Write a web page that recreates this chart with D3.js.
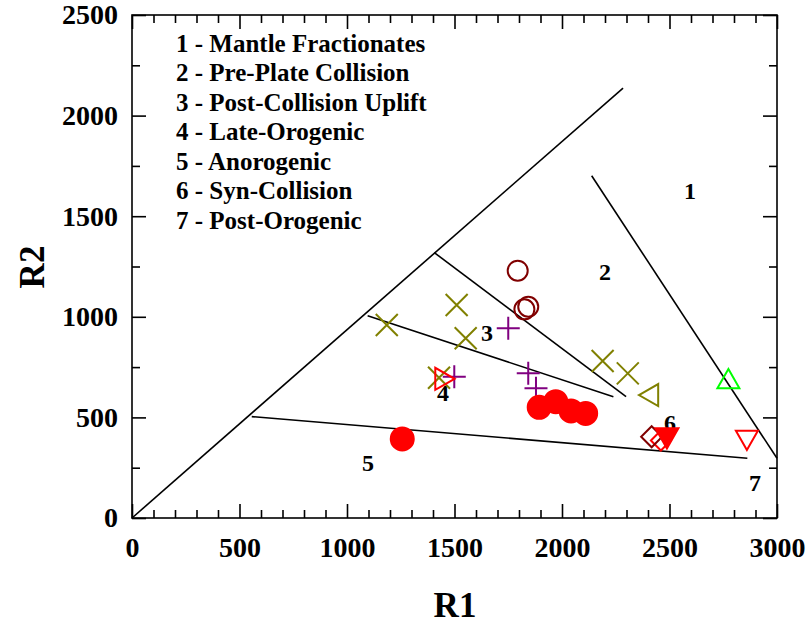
<!DOCTYPE html>
<html>
<head>
<meta charset="utf-8">
<script src="https://cdn.jsdelivr.net/npm/d3@7"></script>
<style>
  html, body { margin: 0; padding: 0; background: #ffffff; }
  svg { display: block; }
  text { font-family: "Liberation Serif", "Times New Roman", serif; font-weight: bold; fill: #000; }
</style>
</head>
<body>
<svg id="chart" width="810" height="624"></svg>
<script>
// ---------------- DATA ----------------
const xTickValues = [0, 500, 1000, 1500, 2000, 2500, 3000];
const yTickValues = [0, 500, 1000, 1500, 2000, 2500];

const legendLines = [
  "1 - Mantle Fractionates",
  "2 - Pre-Plate Collision",
  "3 - Post-Collision Uplift",
  "4 - Late-Orogenic",
  "5 - Anorogenic",
  "6 - Syn-Collision",
  "7 - Post-Orogenic"
];

// Field boundaries [R1, R2] start and end
const boundaryStartR1 = [0,    2138, 1406, 1096, 557];
const boundaryStartR2 = [0,    1701, 1319, 1005, 504];
const boundaryEndR1   = [2284, 3000, 2298, 2239, 2862];
const boundaryEndR2   = [2137, 297,  603,  603,  297];

// Field number labels
const zoneText = ["1", "2", "3", "4", "5", "6", "7"];
const zoneR1   = [2595, 2200, 1651, 1447, 1098, 2502, 2898];
const zoneR2   = [1625, 1223, 919,  621,  273,  472,  174];

// Sample series
const oliveCrossR1 = [1185, 1510, 1552, 1428, 2189, 2306];
const oliveCrossR2 = [959,  1059, 893,  697,  780,  719];

const purplePlusR1 = [1750, 1499, 1843, 1879];
const purplePlusR2 = [943,  702,  719,  645];

const darkRedCircleR1 = [1794, 1825, 1843];
const darkRedCircleR2 = [1229, 1037, 1050];

const redDotR1 = [1257, 1894, 1971, 2042, 2110];
const redDotR2 = [393,  550,  578,  532,  520];

const redTriRightR1 = [1449];
const redTriRightR2 = [692];

const oliveTriLeftR1 = [2409];
const oliveTriLeftR2 = [611];

const greenTriUpR1 = [2774];
const greenTriUpR2 = [686];

const redTriDownR1 = [2860];
const redTriDownR2 = [393];

const redDiamondR1 = [2460];
const redDiamondR2 = [385];

const darkRedDiamondR1 = [2417];
const darkRedDiamondR2 = [404];

const redFilledTriDownR1 = [2488];
const redFilledTriDownR2 = [403];

// ---------------- CHART ----------------
const svg = d3.select("#chart");
const mLeft = 132, mRight = 777, mTop = 15, mBottom = 518;

const x = d3.scaleLinear().domain([0, 3000]).range([mLeft, mRight]);
const y = d3.scaleLinear().domain([0, 2500]).range([mBottom, mTop]);

// frame
svg.append("rect")
  .attr("x", mLeft).attr("y", mTop)
  .attr("width", mRight - mLeft).attr("height", mBottom - mTop)
  .attr("fill", "none").attr("stroke", "#000").attr("stroke-width", 1.6);

const xMinor = d3.range(0, 3001, 100).filter(v => v % 500 !== 0);
const yMinor = d3.range(0, 2501, 250).filter(v => v % 500 !== 0);

function styleAxis(g) {
  g.select(".domain").remove();
  g.selectAll("line").attr("stroke", "#000").attr("stroke-width", 1.6);
  g.selectAll("text").attr("font-size", 28)
    .attr("font-family", '"Liberation Serif", "Times New Roman", serif')
    .attr("font-weight", "bold").attr("fill", "#000");
}

// bottom axis major + labels
svg.append("g").attr("transform", `translate(0,${mBottom})`)
  .call(d3.axisBottom(x).tickValues(xTickValues).tickSize(-14).tickPadding(19).tickFormat(d3.format("d")))
  .call(styleAxis);
svg.append("g").attr("transform", `translate(0,${mBottom})`)
  .call(d3.axisBottom(x).tickValues(xMinor).tickSize(-8).tickFormat(""))
  .call(styleAxis);
// top axis
svg.append("g").attr("transform", `translate(0,${mTop})`)
  .call(d3.axisTop(x).tickValues(xTickValues).tickSize(-14).tickFormat(""))
  .call(styleAxis);
svg.append("g").attr("transform", `translate(0,${mTop})`)
  .call(d3.axisTop(x).tickValues(xMinor).tickSize(-8).tickFormat(""))
  .call(styleAxis);
// left axis
svg.append("g").attr("transform", `translate(${mLeft},0)`)
  .call(d3.axisLeft(y).tickValues(yTickValues).tickSize(-14).tickPadding(14).tickFormat(d3.format("d")))
  .call(styleAxis);
svg.append("g").attr("transform", `translate(${mLeft},0)`)
  .call(d3.axisLeft(y).tickValues(yMinor).tickSize(-8).tickFormat(""))
  .call(styleAxis);
// right axis
svg.append("g").attr("transform", `translate(${mRight},0)`)
  .call(d3.axisRight(y).tickValues(yTickValues).tickSize(-14).tickFormat(""))
  .call(styleAxis);
svg.append("g").attr("transform", `translate(${mRight},0)`)
  .call(d3.axisRight(y).tickValues(yMinor).tickSize(-8).tickFormat(""))
  .call(styleAxis);

// axis titles
svg.append("text").attr("x", 455).attr("y", 617)
  .attr("text-anchor", "middle").attr("font-size", 35).text("R1");
svg.append("text").attr("transform", `translate(44,267) rotate(-90)`)
  .attr("text-anchor", "middle").attr("font-size", 35).text("R2");

// boundaries
const line = d3.line().x(d => x(d[0])).y(d => y(d[1]));
boundaryStartR1.forEach((_, i) => {
  svg.append("path")
    .attr("d", line([[boundaryStartR1[i], boundaryStartR2[i]], [boundaryEndR1[i], boundaryEndR2[i]]]))
    .attr("fill", "none").attr("stroke", "#000").attr("stroke-width", 1.6);
});

// zone labels
zoneText.forEach((t, i) => {
  svg.append("text").attr("x", x(zoneR1[i])).attr("y", y(zoneR2[i]))
    .attr("text-anchor", "middle").attr("dominant-baseline", "central")
    .attr("font-size", 24).text(t);
});

// legend
svg.append("g").selectAll("text").data(legendLines).join("text")
  .attr("x", 176).attr("y", (d, i) => 51.5 + i * 29.5)
  .attr("font-size", 25).text(d => d);

// custom symbol types (size = half width in px)
const symX = { draw(c, r) { c.moveTo(-r, -r); c.lineTo(r, r); c.moveTo(-r, r); c.lineTo(r, -r); } };
const symPlus = { draw(c, r) { c.moveTo(-r, 0); c.lineTo(r, 0); c.moveTo(0, -r); c.lineTo(0, r); } };
const symCircle = { draw(c, r) { c.moveTo(r, 0); c.arc(0, 0, r, 0, 2 * Math.PI); } };
const symTri = { draw(c, r) { c.moveTo(0, -r * 1.0); c.lineTo(r, r * 0.75); c.lineTo(-r, r * 0.75); c.closePath(); } };
const symDiamond = { draw(c, r) { c.moveTo(0, -r); c.lineTo(r, 0); c.lineTo(0, r); c.lineTo(-r, 0); c.closePath(); } };

function plotSeries(r1s, r2s, type, size, stroke, fill, rot) {
  svg.append("g").selectAll("path").data(r1s.map((v, i) => [v, r2s[i]])).join("path")
    .attr("transform", d => `translate(${x(d[0])},${y(d[1])}) rotate(${rot || 0})`)
    .attr("d", d3.symbol().type(type).size(size))
    .attr("fill", fill).attr("stroke", stroke).attr("stroke-width", 2);
}

plotSeries(redDiamondR1, redDiamondR2, symDiamond, 10, "#ff0000", "none", 0);
plotSeries(darkRedDiamondR1, darkRedDiamondR2, symDiamond, 10.5, "#800000", "none", 0);
plotSeries(oliveCrossR1, oliveCrossR2, symX, 11, "#808000", "none", 0);
plotSeries(purplePlusR1, purplePlusR2, symPlus, 11.5, "#800080", "none", 0);
plotSeries(darkRedCircleR1, darkRedCircleR2, symCircle, 10, "#800000", "none", 0);
plotSeries(redDotR1, redDotR2, symCircle, 11.5, "#ff0000", "#ff0000", 0);
plotSeries(redTriRightR1, redTriRightR2, symTri, 11, "#ff0000", "none", 90);
plotSeries(oliveTriLeftR1, oliveTriLeftR2, symTri, 11, "#808000", "none", -90);
plotSeries(greenTriUpR1, greenTriUpR2, symTri, 11, "#00ff00", "none", 0);
plotSeries(redTriDownR1, redTriDownR2, symTri, 11, "#ff0000", "none", 180);
plotSeries(redFilledTriDownR1, redFilledTriDownR2, symTri, 11.5, "#ff0000", "#ff0000", 180);
</script>
</body>
</html>
